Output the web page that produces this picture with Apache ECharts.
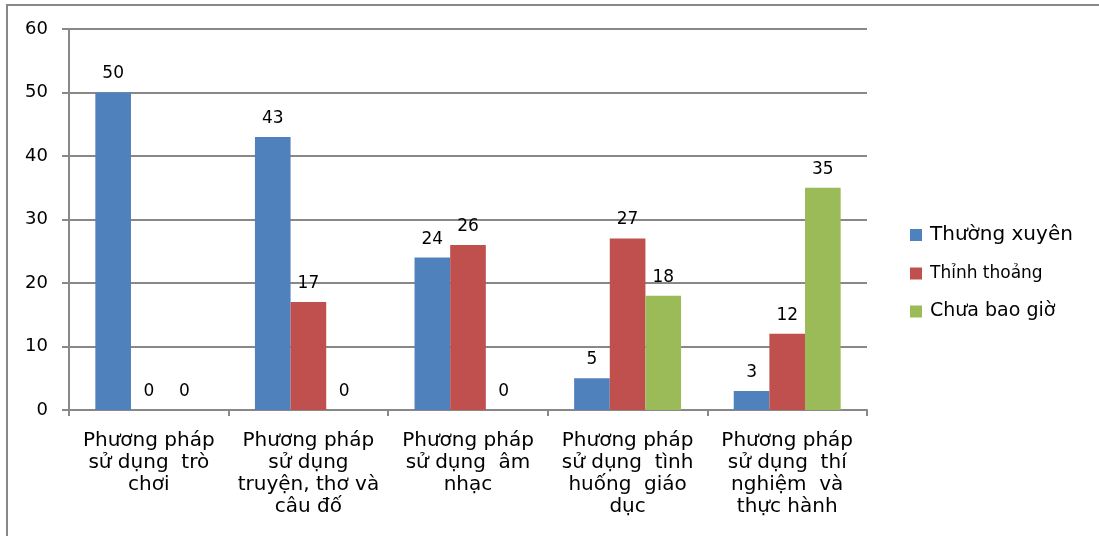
<!DOCTYPE html>
<html><head><meta charset="utf-8">
<script src="https://cdn.jsdelivr.net/npm/echarts@6/dist/echarts.min.js"></script>
<style>html,body{margin:0;padding:0;background:#fff}#c{width:1099px;height:536px}</style>
</head><body><div id="c"></div>
<script>
const categories = [
  "Phương pháp\nsử dụng  trò\nchơi",
  "Phương pháp\nsử dụng\ntruyện, thơ và\ncâu đố",
  "Phương pháp\nsử dụng  âm\nnhạc",
  "Phương pháp\nsử dụng  tình\nhuống  giáo\ndục",
  "Phương pháp\nsử dụng  thí\nnghiệm  và\nthực hành"
];
const seriesNames = ["Thường xuyên", "Thỉnh thoảng", "Chưa bao giờ"];
const thuongXuyen = [50, 43, 24, 5, 3];
const thinhThoang = [0, 17, 26, 27, 12];
const chuaBaoGio = [0, 0, 0, 18, 35];
const colors = ["#4F81BD", "#C0504D", "#9BBB59"];

const chart = echarts.init(document.getElementById('c'));
const mk = (name, data, color) => ({
  name, type: 'bar', data, barGap: '0%', barCategoryGap: '33%',
  itemStyle: { color },
  label: { show: true, position: 'top', distance: 10, color: '#000',
    fontFamily: 'DejaVu Sans', fontSize: 17 }
});
const legendSizes = [20, 17, 19];
chart.setOption({
  animation: false,
  graphic: [{ type: 'rect', shape: { x: 7, y: 5, width: 1200, height: 700 },
    style: { fill: 'none', stroke: '#888', lineWidth: 2 }, silent: true }],
  grid: { left: 69, right: 232, top: 29, bottom: 126 },
  legend: {
    orient: 'vertical', left: 905, top: 220, itemGap: 20,
    itemWidth: 12, itemHeight: 12, icon: 'rect',
    textStyle: { fontFamily: 'DejaVu Sans', fontSize: 18, color: '#000', padding: [0,0,0,3] },
    data: seriesNames.map((n, i) => ({ name: n, textStyle: { fontSize: legendSizes[i] } }))
  },
  xAxis: {
    type: 'category', data: categories,
    axisLine: { lineStyle: { color: '#888', width: 2 } },
    axisTick: { show: true, length: 6, lineStyle: { color: '#888', width: 2 } },
    axisLabel: { interval: 0, color: '#000', fontFamily: 'DejaVu Sans', fontSize: 20,
      lineHeight: 22, margin: 20, align: 'center' }
  },
  yAxis: {
    type: 'value', min: 0, max: 60, interval: 10,
    axisLine: { show: true, lineStyle: { color: '#888', width: 2 } },
    axisTick: { show: true, length: 7, lineStyle: { color: '#888', width: 2 } },
    splitLine: { lineStyle: { color: '#888', width: 2 } },
    axisLabel: { color: '#000', fontFamily: 'DejaVu Sans', fontSize: 18, margin: 21 }
  },
  series: [
    mk(seriesNames[0], thuongXuyen, colors[0]),
    mk(seriesNames[1], thinhThoang, colors[1]),
    mk(seriesNames[2], chuaBaoGio, colors[2])
  ]
});
</script></body></html>
